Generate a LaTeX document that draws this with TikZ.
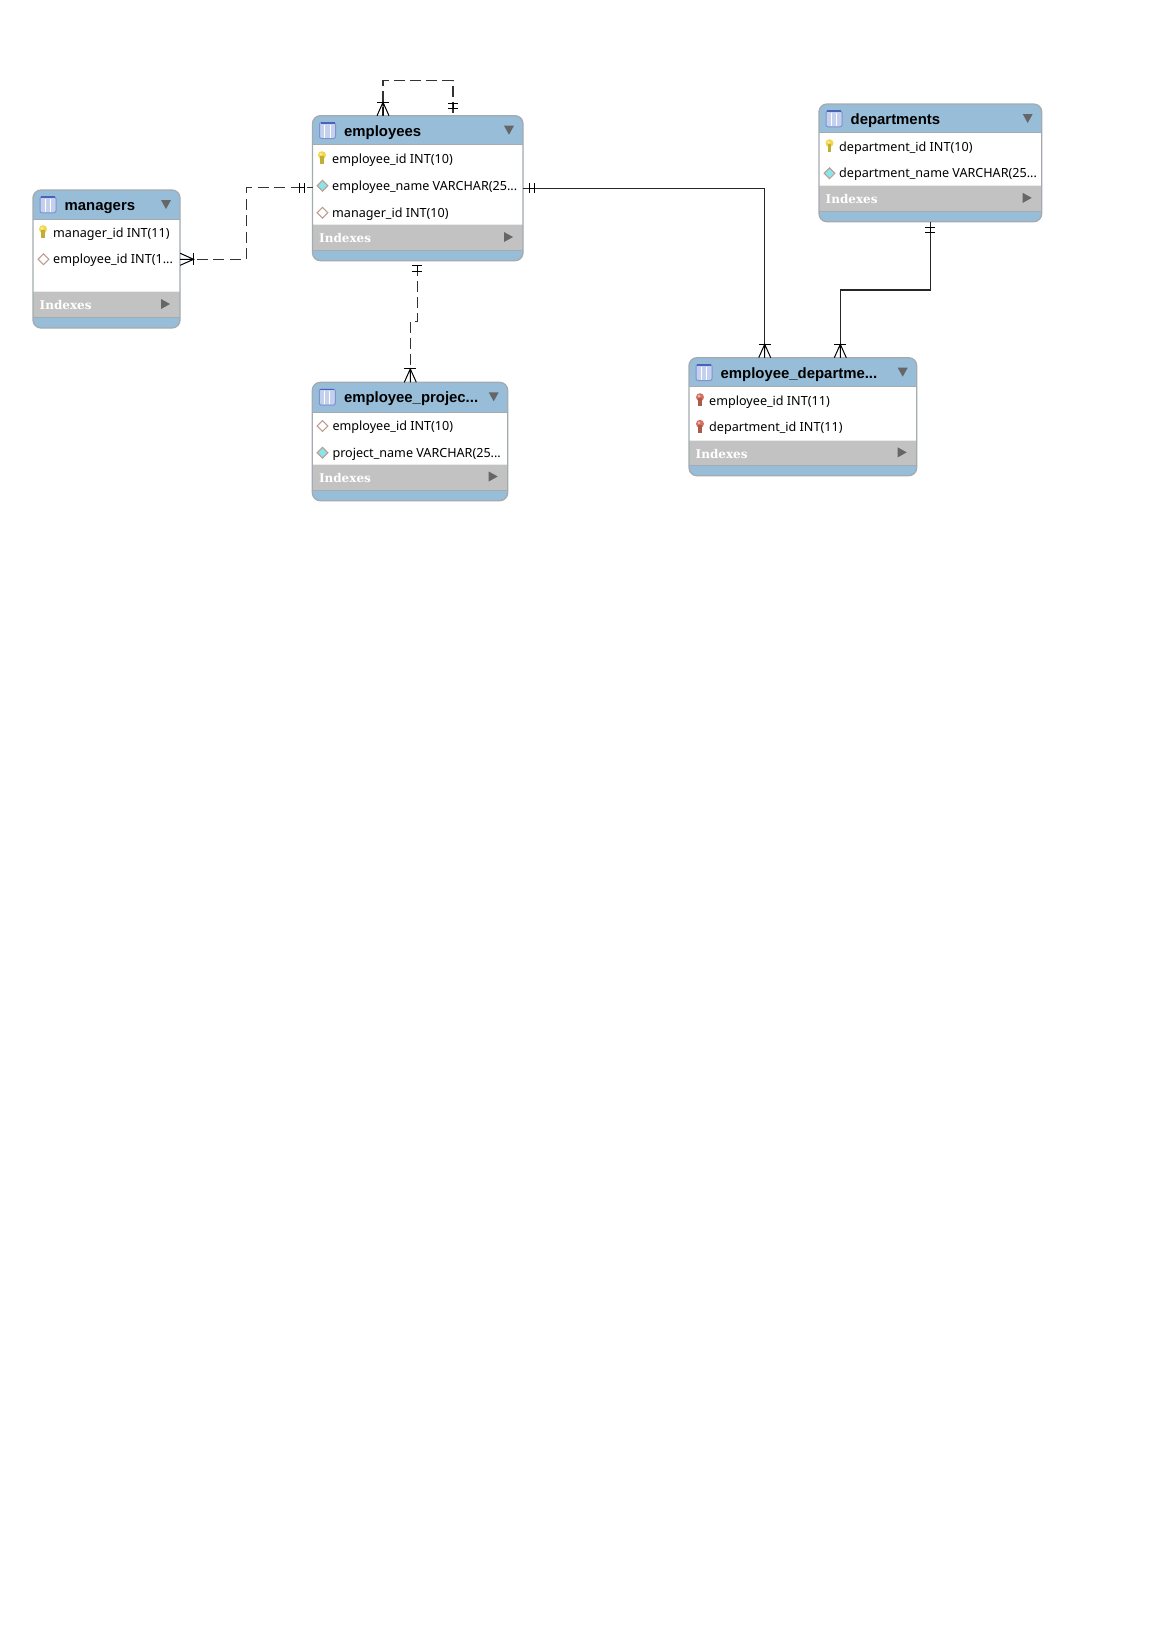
\documentclass[tikz,border=0pt]{standalone}
\usepackage{fontspec}
\setmainfont{Noto Sans}
\newfontfamily\titlefont{Liberation Sans}
\newfontfamily\indexfont{DejaVu Serif}
\definecolor{HeadBlue}{HTML}{98BDD8}
\definecolor{BandGrey}{HTML}{C2C2C2}
\definecolor{FrameGrey}{HTML}{A4ABB0}
\definecolor{ArrowGrey}{HTML}{666666}
\definecolor{KeyYellow}{HTML}{F2D845}
\definecolor{KeyRed}{HTML}{D8705F}
\definecolor{GemCyan}{HTML}{86E6EA}
\definecolor{GemPink}{HTML}{C09A90}
\definecolor{IconBlue}{HTML}{4A62B8}
\definecolor{IconFill}{HTML}{C4D1EE}
\tikzset{
    tableframe/.style = {draw=FrameGrey, line width=1.3pt, rounded corners=8pt, inner sep=0pt, outer sep=0pt, anchor=north west},
    titletext/.style = {anchor=west, inner sep=0pt, text height=11pt, text depth=3pt, font=\titlefont\fontsize{14.9}{16}\selectfont\bfseries},
    fieldtext/.style = {anchor=west, inner sep=0pt, text height=10pt, text depth=3pt, font=\fontsize{12.6}{15}\selectfont},
    indextext/.style = {anchor=west, inner sep=0pt, text height=9pt, text depth=2pt, text=white, font=\indexfont\fontsize{12}{14}\selectfont\bfseries},
    reldash/.style = {draw=black!80, line width=1.1pt, dash pattern=on 11pt off 5pt},
    relsolid/.style = {draw=black!85, line width=1.2pt},
    pics/crowfoot/.style = {code = {
        \draw[black, line width=1pt] (-6,0) -- (6,0);
        \draw[black, line width=1pt] (-6,13.4) -- (0,0) -- (6,13.4) (0,0) -- (0,13.4);
    }},
    pics/twobars/.style = {code = {
        \draw[black, line width=1pt] (-5,0) -- (5,0) (-5,5.5) -- (5,5.5) (0,0) -- (0,5.5);
    }},
    pics/keyicon/.style = {code = {
        \fill[#1] (0,-3) circle (4);
        \fill[#1!80!black] (-1.7,-2) rectangle (1.7,6);
        \fill[white, opacity=.6] (-1,-4) circle (1.3);
    }},
    pics/gemicon/.style = {code = {
        \filldraw[fill=#1, draw=GemPink, line width=1pt] (-5.4,0) -- (0,-5.4) -- (5.4,0) -- (0,5.4) -- cycle;
    }},
    pics/tableicon/.style = {code = {
        \filldraw[fill=IconFill, draw=IconBlue!70, line width=1pt, rounded corners=2pt] (-8,-8) rectangle (8,8);
        \draw[IconBlue, line width=1.6pt] (-7,-7.6) -- (7,-7.6);
        \draw[white, line width=.7pt] (-2.8,-6) -- (-2.8,7) (2.4,-6) -- (2.4,7);
    }}
}
% one table: name, left, top, width, height, head, band top, band bottom, title
\newcommand{\erdtable}[9]{
    \begin{scope}[shift={(#2,#3)}]
        \fill[HeadBlue, rounded corners=8pt] (0,0) rectangle (#4,#5);
        \fill[white] (0,#6) rectangle (#4,#7);
        \fill[BandGrey] (0,#7) rectangle (#4,#8);
        \draw[FrameGrey, line width=1pt] (0,#6) -- (#4,#6) (0,#8) -- (#4,#8);
        \draw[white!92!black, line width=.8pt] (0,#7) -- (#4,#7);
        \node[tableframe, minimum width=#4pt, minimum height=#5pt] (#1) at (0,0) {};
        \pic at (15,14.8) {tableicon};
        \node[titletext] (#1title) at (31.5,16.6) {#9};
        \fill[ArrowGrey] (#4-19,10) -- (#4-9,10) -- (#4-14,19) -- cycle;
        \node[indextext] (#1index) at (6.5,#7/2+#8/2+1.8) {Indexes};
        \fill[ArrowGrey] (#4-19,#7/2+#8/2-5.5) -- (#4-10,#7/2+#8/2-.5) -- (#4-19,#7/2+#8/2+4.5) -- cycle;
    \end{scope}
}
\begin{document}
\begin{tikzpicture}[x = 1pt, y = -1pt]
    \useasboundingbox (0,0) rectangle (1165,1631);
    % tables
    \erdtable{managers}{33}{190}{147}{138}{29.3}{101.7}{127.3}{managers}
    \erdtable{employees}{312.5}{115.7}{210.5}{145}{28.6}{108.6}{135}{employees}
    \erdtable{empproject}{312.3}{382.3}{195.4}{118.4}{29.7}{81.7}{107.7}{employee\_projec...}
    \erdtable{departments}{819}{104}{222.7}{117.7}{28.7}{81.7}{107}{departments}
    \erdtable{empdept}{689}{357.7}{227.7}{118}{29}{82.3}{108}{employee\_departme...}
    % fields
    \pic at (43,232.2) {keyicon=KeyYellow};
    \node[fieldtext] (mgrid) at (53,233.7) {manager\_id INT(11)};
    \pic at (43.5,259.3) {gemicon=white};
    \node[fieldtext] (mgremp) at (53,260.3) {employee\_id INT(1...};
    \pic at (322,158.2) {keyicon=KeyYellow};
    \node[fieldtext] (empid) at (332,159.7) {employee\_id INT(10)};
    \pic at (322.5,185.7) {gemicon=GemCyan};
    \node[fieldtext] (empname) at (332,186.7) {employee\_name VARCHAR(25...};
    \pic at (322.5,212.7) {gemicon=white};
    \node[fieldtext] (empmgr) at (332,213.7) {manager\_id INT(10)};
    \pic at (322.5,426) {gemicon=white};
    \node[fieldtext] (prjemp) at (332.3,427) {employee\_id INT(10)};
    \pic at (322.5,452.7) {gemicon=GemCyan};
    \node[fieldtext] (prjname) at (332.3,453.7) {project\_name VARCHAR(25...};
    \pic at (829.5,146.2) {keyicon=KeyYellow};
    \node[fieldtext] (deptid) at (839,147.7) {department\_id INT(10)};
    \pic at (829.5,173.3) {gemicon=GemCyan};
    \node[fieldtext] (deptname) at (839,174.3) {department\_name VARCHAR(25...};
    \pic at (700,400.2) {keyicon=KeyRed};
    \node[fieldtext] (edemp) at (709,401.7) {employee\_id INT(11)};
    \pic at (700,426.8) {keyicon=KeyRed};
    \node[fieldtext] (eddept) at (709,428.3) {department\_id INT(11)};
    % relations
    \coordinate (selfa) at (383,80.7);
    \coordinate (selfb) at (453,80.7);
    \draw[reldash, dash phase=2pt] (employees.north -| selfa) -- (selfa) -- (selfb) -- (employees.north -| selfb);
    \coordinate (mgrlow) at (246.4,259.3);
    \coordinate (mgrhigh) at (246.4,187.9);
    \draw[reldash, dash pattern=on 11pt off 5.49pt, dash phase=15.98pt] (managers.east |- mgrlow) -- (mgrlow) -- (mgrhigh) -- (employees.west |- mgrhigh);
    \coordinate (prja) at (417.3,321.7);
    \coordinate (prjb) at (410.3,321.7);
    \draw[reldash, dash phase=11.3pt] (employees.south -| prja) -- (prja) -- (prjb) -- (prjb |- empproject.north);
    \coordinate (empbend) at (764.7,188.3);
    \draw[relsolid] (employees.east |- empbend) -- (empbend) -- (empbend |- empdept.north);
    \coordinate (depta) at (930.3,290);
    \coordinate (deptb) at (840.3,290);
    \draw[relsolid] (departments.south -| depta) -- (depta) -- (deptb) -- (deptb |- empdept.north);
    % ends of the relations
    \pic at (383,102.3) {crowfoot};
    \pic at (453,103.3) {twobars};
    \pic[rotate=-90] at (193.6,259.3) {crowfoot};
    \pic[rotate=90] at (299.3,187.9) {twobars};
    \pic at (417.3,265.7) {twobars};
    \pic at (410.3,368.9) {crowfoot};
    \pic[rotate=90] at (529,188.3) {twobars};
    \pic at (764.7,344.3) {crowfoot};
    \pic at (930.3,227.3) {twobars};
    \pic at (840.3,344.3) {crowfoot};
\end{tikzpicture}
\end{document}
